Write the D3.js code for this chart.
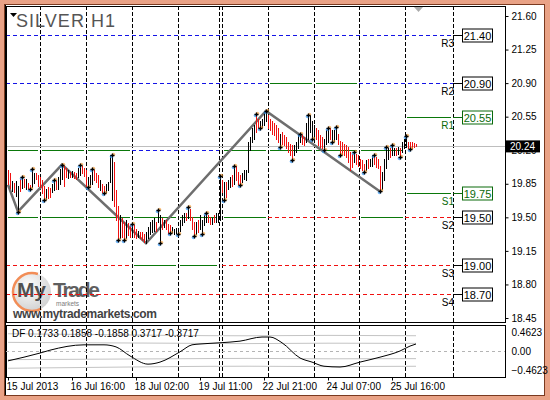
<!DOCTYPE html>
<html>
<head>
<meta charset="utf-8">
<script src="https://cdn.jsdelivr.net/npm/d3@7"></script>
<style>
  body { margin: 0; background: #fff; }
  svg { display: block; }
  text { font-family: "Liberation Sans", Arial, sans-serif; }
</style>
</head>
<body>
<svg id="chart" width="550" height="400"></svg>
<script>
// hourly bars, SILVER H1 (high / low)
const hi = [19.99,19.96,19.88,19.86,19.88,19.83,19.90,19.92,19.90,19.90,19.86,19.84,20.00,19.96,19.96,19.94,
  19.92,19.89,19.83,19.80,19.82,19.81,19.85,19.89,19.88,19.92,20.00,20.05,20.04,20.01,19.99,19.97,19.98,19.97,19.96,20.01,20.05,20.04,20.01,
  19.99,19.92,19.94,20.00,19.99,19.96,19.94,19.89,19.85,19.83,19.85,19.87,20.15,20.15,20.08,19.78,19.62,19.52,19.49,19.45,19.47,19.44,19.42,
  19.43,19.42,19.38,19.36,19.35,19.35,19.33,19.35,19.40,19.45,19.47,19.49,19.45,19.58,19.52,19.49,19.47,19.47,19.43,19.42,19.40,19.38,19.39,
  19.38,19.47,19.52,19.55,19.55,19.61,19.59,19.50,19.45,19.45,19.47,19.52,19.47,19.52,19.54,19.52,19.50,19.49,19.52,19.55,19.54,
  19.93,19.89,19.87,19.87,19.89,19.92,19.94,20.04,20.04,19.97,19.94,19.96,19.99,19.99,20.29,20.34,20.43,20.46,20.58,20.53,20.51,20.53,20.60,20.61,
  20.57,20.53,20.50,20.48,20.46,20.43,20.37,20.39,20.36,20.34,20.29,20.27,20.25,20.25,20.29,20.36,20.37,20.36,20.34,20.48,20.57,20.57,20.50,
  20.46,20.43,20.41,20.36,20.34,20.32,20.41,20.43,20.43,20.41,20.41,20.44,20.37,20.30,20.29,20.27,20.25,20.23,20.18,20.16,20.18,20.16,20.15,
  20.11,20.10,20.06,20.10,20.11,20.11,20.15,20.15,20.13,20.11,20.04,19.97,20.11,20.23,20.22,20.22,20.25,20.22,20.22,20.23,20.22,20.29,20.32,
  20.35,20.29,20.29,20.29,20.28,20.27];
const lo = [19.85,19.81,19.77,19.76,19.72,19.56,19.77,19.81,19.82,19.80,19.80,19.80,19.82,19.86,19.90,19.83,
  19.82,19.75,19.68,19.69,19.70,19.71,19.76,19.78,19.80,19.80,19.85,19.90,19.83,19.92,19.91,19.92,19.92,19.91,19.90,19.92,19.94,19.96,19.93,
  19.83,19.82,19.82,19.85,19.89,19.87,19.82,19.78,19.76,19.75,19.76,19.78,19.87,19.68,19.62,19.47,19.26,19.28,19.29,19.26,19.28,19.32,19.30,
  19.33,19.29,19.28,19.30,19.28,19.26,19.24,19.23,19.28,19.33,19.35,19.36,19.36,19.45,19.23,19.38,19.40,19.38,19.33,19.34,19.35,19.33,19.34,
  19.33,19.36,19.42,19.45,19.47,19.49,19.47,19.38,19.31,19.33,19.35,19.38,19.33,19.42,19.45,19.45,19.43,19.43,19.45,19.45,19.45,
  19.47,19.76,19.68,19.71,19.80,19.82,19.83,19.85,19.89,19.85,19.84,19.87,19.90,19.89,19.97,20.20,20.29,20.32,20.39,20.43,20.43,20.44,20.46,20.50,
  20.43,20.41,20.37,20.36,20.32,20.29,20.23,20.27,20.25,20.22,20.18,20.15,20.10,20.15,20.18,20.22,20.29,20.27,20.25,20.29,20.32,20.39,20.32,
  20.29,20.32,20.25,20.23,20.22,20.20,20.27,20.29,20.32,20.29,20.30,20.32,20.27,20.15,20.16,20.15,20.13,20.08,19.99,20.03,20.08,20.06,20.04,
  20.01,19.99,19.97,19.99,20.01,20.04,20.04,20.06,20.03,20.01,19.77,19.80,19.89,20.01,20.11,20.13,20.15,20.15,20.15,20.16,20.13,20.18,20.22,
  20.23,20.22,20.21,20.22,20.23,20.24];
// b = up bar (black), r = down bar (red)
const barColors = "rrbrbbrbrbrrbbrr" + "rrrbrrbbrbbbrrbrbrrbbrr" + "rbbbrrrbrrbbbbrrrbrrbrr" +
  "brrbrrrbbbbbrbbrbrrrbbb" + "bbbbrbrrrbrbbbbrrbrbb" + "brbrbbrbrrrbbbbbbbrrbbbb" +
  "rrrrrrbrrrrrrbbbbrrbbbb" + "brrrrbbbrbbbrrrrrrrrbrr" + "rrrbrbbrrrrbbbbrbbrbrbbbrrrrr";

const fracHigh = [7,12,23,27,36,42,52,62,75,90,99,106,113,124,129,146,150,160,164,173,183,189,192,199];
const fracLow = [5,11,18,40,48,55,58,76,81,85,93,97,108,116,126,136,142,152,158,162,166,178,186,196,201];

const zzBars = [0, 5, 27, 69, 129, 186];
const zzPrices = [19.84, 19.56, 20.05, 19.23, 20.61, 19.77];

const lastPrice = 20.24;
const priceTicks = [21.60, 21.25, 20.90, 20.55, 20.20, 19.85, 19.50, 19.15, 18.80, 18.45];

// day separators (bar positions)
const dayEdges = [-1, 16, 39, 62, 85, 105.5, 107, 130, 153, 175.5, 198.5, 222.5];

const pivotNames = ["R3", "R2", "R1", "S1", "S2", "S3", "S4"];
const pivotValues = [21.40, 20.90, 20.55, 19.75, 19.50, 19.00, 18.70];
const pivotGreen = ["R1", "S1"];

// level segments drawn per day: price, from edge, to edge, kind
const segPrice = [21.40, 20.90, 20.90, 20.90, 20.90, 20.55,
  20.20, 20.20, 20.20, 20.20, 20.20, 20.20, 20.20, 20.20, 19.75,
  19.50, 19.50, 19.50, 19.50, 19.50, 19.50, 19.50, 19.50, 19.50,
  19.00, 19.00, 19.00, 19.00, 18.70];
const segFrom = [0, 0, 7, 8, 9, 10, 0, 1, 2, 3, 6, 7, 8, 9, 10, 0, 1, 2, 3, 4, 6, 7, 9, 10, 0, 3, 4, 6, 0];
const segTo = [11, 7, 8, 9, 11, 11, 1, 2, 3, 5, 7, 8, 9, 10, 11, 1, 2, 3, 4, 5, 7, 9, 10, 11, 3, 4, 5, 11, 11];
const segKind = ["b", "b", "g", "g", "b", "g", "g", "g", "g", "b", "g", "g", "g", "g", "g",
  "g", "g", "g", "g", "g", "g", "r", "g", "r", "r", "g", "g", "r", "r"];

const timeTicks = [0, 32, 64, 96, 128, 160, 192];
const timeLabels = ["15 Jul 2013", "16 Jul 16:00", "18 Jul 02:00", "19 Jul 11:00",
  "22 Jul 21:00", "24 Jul 07:00", "25 Jul 16:00"];

// DF oscillator
const dfBars = [0,16,21,38,48,54,61,70,76,86,92,96,106,116,127,131,137,146,152,158,166,176,186,196,201,204];
const dfValues = [-0.24,-0.05,0.02,0.15,0.15,0.10,-0.12,-0.32,-0.27,-0.02,0.15,0.17,0.20,0.24,0.34,0.34,
  0.20,-0.17,-0.27,-0.37,-0.39,-0.27,-0.15,0.00,0.12,0.17];
const bandBars = [0, 40, 80, 120, 160, 204];
const bandUp2 = [0.42, 0.40, 0.38, 0.37, 0.38, 0.3717];
const bandUp1 = [0.21, 0.20, 0.19, 0.18, 0.19, 0.1858];
const bandDn1 = [-0.21, -0.20, -0.19, -0.18, -0.19, -0.1858];
const bandDn2 = [-0.42, -0.40, -0.38, -0.37, -0.38, -0.3717];
const dfTicks = [0.4623, 0, -0.4623];
const dfTitle = "DF 0.1733 0.1858 -0.1858 0.3717 -0.3717";

const svg = d3.select("#chart");
const plotL = 6, plotR = 505, plotT = 6, plotB = 322;
const indT = 325, indB = 377;

const x = d3.scaleLinear().domain([0, 1]).range([8, 10]);
const y = d3.scaleLinear().domain([18.45, 21.60]).range([318, 16]);
const yi = d3.scaleLinear().domain([-0.4623, 0.4623]).range([370, 332]);
const px = (v) => Math.round(v) + 0.5;

// frame
svg.append("rect").attr("width", 550).attr("height", 400).attr("fill", "#E9A286");
svg.append("rect").attr("x", 4.5).attr("y", 4.5).attr("width", 540).attr("height", 391)
  .attr("fill", "#fff").attr("stroke", "#7a3a20");

const defs = svg.append("defs");
defs.append("clipPath").attr("id", "indClip")
  .append("rect").attr("x", plotL).attr("y", indT).attr("width", plotR - plotL).attr("height", indB - indT);

// logo watermark
const logo = svg.append("g").attr("opacity", 0.85);
const grad = defs.append("radialGradient").attr("id", "ball")
  .attr("cx", "40%").attr("cy", "35%").attr("r", "70%");
grad.append("stop").attr("offset", "0%").attr("stop-color", "#ffffff");
grad.append("stop").attr("offset", "100%").attr("stop-color", "#c8c8c8");
logo.append("circle").attr("cx", 32).attr("cy", 292).attr("r", 19)
  .attr("fill", "url(#ball)").attr("stroke", "#F07A3A").attr("stroke-width", 2.5)
  .attr("stroke-dasharray", "75,50").attr("stroke-dashoffset", -20);
logo.append("text").attr("x", 17).attr("y", 297).attr("font-size", 21).attr("font-weight", "bold")
  .attr("fill", "#333").attr("textLength", 29).text("My");
logo.append("text").attr("x", 53).attr("y", 297).attr("font-size", 21).attr("font-weight", "bold")
  .attr("fill", "#444").attr("textLength", 47).text("Trade");
logo.append("text").attr("x", 56).attr("y", 306).attr("font-size", 6.5).attr("fill", "#666").text("markets");
logo.append("text").attr("x", 13).attr("y", 318).attr("font-size", 12).attr("font-weight", "bold")
  .attr("fill", "#222").attr("textLength", 144).text("www.mytrademarkets.com");

// day separators
const sepG = svg.append("g");
dayEdges.slice(1).forEach((e) => {
  [[plotT, plotB], [indT, indB]].forEach(([a, b]) => {
    sepG.append("line").attr("x1", px(x(e))).attr("x2", px(x(e))).attr("y1", a).attr("y2", b)
      .attr("stroke", "#000").attr("stroke-dasharray", "4,2");
  });
});

// current price line
svg.append("line").attr("x1", plotL).attr("x2", plotR).attr("y1", px(y(lastPrice))).attr("y2", px(y(lastPrice)))
  .attr("stroke", "#BEBEBE");

// pivot level segments
const kindColor = { b: "#1414E6", g: "#0A780A", r: "#F01010" };
const segG = svg.append("g");
segG.selectAll("path").data(segPrice).enter().append("path")
  .attr("d", (p, i) => {
    let x1 = x(dayEdges[segFrom[i]]), x2 = x(dayEdges[segTo[i]]);
    if (segKind[i] === "g") { x1 += 2; x2 -= 2; }
    return `M${x1},${px(y(p))}H${x2}`;
  })
  .attr("fill", "none")
  .attr("stroke-width", 1)
  .attr("stroke", (p, i) => kindColor[segKind[i]])
  .attr("stroke-dasharray", (p, i) => segKind[i] === "g" ? "none" : "4,3");

// zigzag
svg.append("path")
  .datum(zzBars.map((b, i) => [x(b), y(zzPrices[i])]))
  .attr("d", d3.line())
  .attr("fill", "none").attr("stroke", "#6E6E6E").attr("stroke-width", 2.5);

// bars
svg.append("g").attr("shape-rendering", "crispEdges")
  .selectAll("line").data(hi).enter().append("line")
  .attr("x1", (d, i) => px(x(i))).attr("x2", (d, i) => px(x(i)))
  .attr("y1", (d) => Math.round(y(d))).attr("y2", (d, i) => Math.round(y(lo[i])) + 1)
  .attr("stroke", (d, i) => barColors[i] === "b" ? "#000" : "#F01010");

// fractal markers
const marks = fracHigh.map((b) => [b, hi[b]]).concat(fracLow.map((b) => [b, lo[b]]));
const mk = svg.append("g");
marks.forEach(([b, p]) => {
  const cx = px(x(b)), cy = Math.round(y(p)) + 0.5;
  mk.append("circle").attr("cx", cx - 1).attr("cy", cy + 1).attr("r", 1.8).attr("fill", "#3aa0ff").attr("opacity", 0.7);
  mk.append("circle").attr("cx", cx + 1).attr("cy", cy - 1).attr("r", 1.8).attr("fill", "#ffa030").attr("opacity", 0.6);
  mk.append("path").attr("d", d3.symbol(d3.symbolCross, 9)()).attr("transform", `translate(${cx},${cy})`).attr("fill", "#000");
});

// title
svg.append("path").attr("d", "M10,13 L17,13 L13.5,17 Z").attr("fill", "#000");
svg.append("text").attr("x", 16).attr("y", 27).attr("font-family", "Liberation Serif, serif")
  .attr("font-size", 18).attr("fill", "#555").attr("textLength", 99).text("SILVER H1");
svg.append("path").attr("d", "M414,7 L423,7 L418.5,12 Z").attr("fill", "#aaa");

// pivot labels and value boxes
pivotNames.forEach((n, i) => {
  const yy = px(y(pivotValues[i]));
  const c = pivotGreen.includes(n) ? "#0A6A0A" : "#000";
  const xe = x(dayEdges[dayEdges.length - 1]);
  svg.append("line").attr("x1", xe).attr("x2", 462).attr("y1", yy).attr("y2", yy).attr("stroke", c);
  svg.append("text").attr("x", xe + 1).attr("y", yy + 11).attr("text-anchor", "end")
    .attr("font-size", 10).attr("fill", c).text(n);
  svg.append("rect").attr("x", 462.5).attr("y", yy - 6.5).attr("width", 30).attr("height", 13)
    .attr("fill", "#fff").attr("stroke", c);
  svg.append("text").attr("x", 477.5).attr("y", yy + 4).attr("text-anchor", "middle")
    .attr("font-size", 11).attr("fill", c).text(d3.format(".2f")(pivotValues[i]));
});

// frames
svg.append("rect").attr("x", plotL + 0.5).attr("y", plotT + 0.5).attr("width", plotR - plotL).attr("height", plotB - plotT)
  .attr("fill", "none").attr("stroke", "#000");
svg.append("rect").attr("x", plotL + 0.5).attr("y", indT + 0.5).attr("width", plotR - plotL).attr("height", indB - indT)
  .attr("fill", "none").attr("stroke", "#000");
svg.append("line").attr("x1", 5.5).attr("x2", 5.5).attr("y1", 5).attr("y2", 395).attr("stroke", "#000");

// price axis
const ay = svg.append("g").attr("transform", `translate(${plotR + 0.5},0)`)
  .call(d3.axisRight(y).tickValues(priceTicks).tickSize(3).tickPadding(3).tickFormat(d3.format(".2f")));
ay.select(".domain").remove();
ay.selectAll("text").attr("font-size", 10).attr("fill", "#000").attr("font-family", "Liberation Sans, Arial, sans-serif");

// last price tag
const ly = y(lastPrice);
svg.append("rect").attr("x", 506).attr("y", ly - 6).attr("width", 34).attr("height", 12).attr("fill", "#000");
svg.append("text").attr("x", 510).attr("y", ly + 4).attr("font-size", 10).attr("fill", "#fff").text(lastPrice.toFixed(2));

// DF panel
const ind = svg.append("g").attr("clip-path", "url(#indClip)");
ind.append("line").attr("x1", plotL).attr("x2", plotR).attr("y1", px(yi(0))).attr("y2", px(yi(0)))
  .attr("stroke", "#b4b4b4").attr("stroke-dasharray", "3,3");
const bandLine = d3.line().curve(d3.curveMonotoneX);
[bandUp2, bandUp1, bandDn1, bandDn2].forEach((band) => {
  ind.append("path").datum(bandBars.map((b, i) => [x(b), yi(band[i])])).attr("d", bandLine)
    .attr("fill", "none").attr("stroke", "#c4c4c4");
});
ind.append("path").datum(dfBars.map((b, i) => [x(b), yi(dfValues[i])])).attr("d", bandLine)
  .attr("fill", "none").attr("stroke", "#000");
svg.append("text").attr("x", 12).attr("y", 337).attr("font-size", 10).attr("fill", "#000").text(dfTitle);

const ai = svg.append("g").attr("transform", `translate(${plotR + 0.5},0)`)
  .call(d3.axisRight(yi).tickValues(dfTicks).tickSize(0).tickPadding(6)
    .tickFormat((d) => d === 0 ? "0.00" : d3.format(".4f")(d)));
ai.select(".domain").remove();
ai.selectAll("text").attr("font-size", 10).attr("fill", "#000").attr("font-family", "Liberation Sans, Arial, sans-serif");

// time axis
const ax = svg.append("g").attr("transform", `translate(0,${indB + 0.5})`)
  .call(d3.axisBottom(x).tickValues(timeTicks).tickSize(3).tickPadding(2)
    .tickFormat((d, i) => timeLabels[i]));
ax.select(".domain").remove();
ax.selectAll("text").attr("text-anchor", "start").attr("dx", -2).attr("font-size", 10)
  .attr("fill", "#000").attr("font-family", "Liberation Sans, Arial, sans-serif");
</script>
</body>
</html>
